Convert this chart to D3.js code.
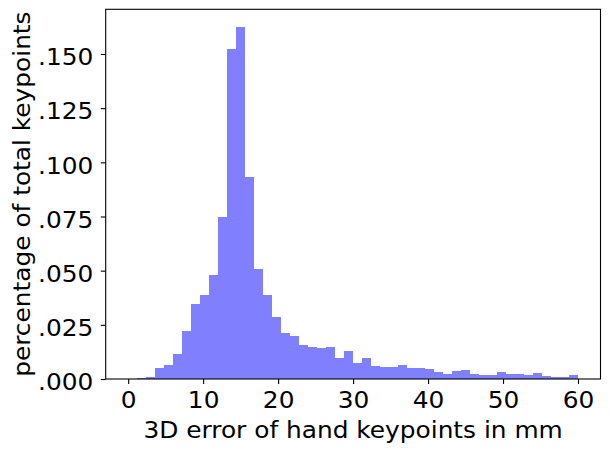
<!DOCTYPE html>
<html>
<head>
<meta charset="utf-8">
<style>
    body {
        margin: 0px;
        padding: 0px;
        background-color: white;
        overflow: hidden;
    }

    .axis text {
        font-family: "DejaVu Sans", sans-serif;
        font-size: 23px;
        fill: black;
    }

    .axis path {
        stroke: none;
    }

    .axis line {
        stroke: black;
        stroke-width: 1.1px;
    }

    .label {
        font-family: "DejaVu Sans", sans-serif;
        font-size: 23px;
        fill: black;
    }
</style>
</head>
<body>
<script src="https://d3js.org/d3.v7.min.js"></script>
<script>
// histogram bins: 50 bins of 1.2 mm from 0 to 60
var binStart = 0,
    binWidth = 1.2;

var binValues = [
    0.0000, 0.0005, 0.0009, 0.0051, 0.0065, 0.0116, 0.0222, 0.0347, 0.0388, 0.0481,
    0.0749, 0.1525, 0.1625, 0.0933, 0.0508, 0.0388, 0.0287, 0.0213, 0.0199, 0.0157,
    0.0148, 0.0143, 0.0148, 0.0097, 0.0129, 0.0074, 0.0097, 0.0060, 0.0055, 0.0055,
    0.0065, 0.0051, 0.0051, 0.0046, 0.0032, 0.0023, 0.0037, 0.0042, 0.0023, 0.0018,
    0.0018, 0.0032, 0.0023, 0.0023, 0.0018, 0.0028, 0.0014, 0.0009, 0.0009, 0.0018
];

var xTicks = [0, 10, 20, 30, 40, 50, 60];
var yTicks = [0, 0.025, 0.05, 0.075, 0.1, 0.125, 0.15];

var xLabel = "3D error of hand keypoints in mm",
    yLabel = "percentage of total keypoints";

var width = 610,
    height = 452;

var plot = { left: 105.7, right: 600.5, top: 9.3, bottom: 379 };

// the reference text runs a little wider along its line than the font size gives
var stretch = "scale(1.08,1)";

var bins = binValues.map(function(v, i) {
    return { x0: binStart + i * binWidth, x1: binStart + (i + 1) * binWidth, value: v };
});

var x = d3.scaleLinear()
    .domain([-3, 63])
    .range([plot.left, plot.right]);

var y = d3.scaleLinear()
    .domain([0, d3.max(binValues) * 1.05])
    .range([plot.bottom, plot.top]);

var svg = d3.select("body").append("svg")
    .attr("width", width)
    .attr("height", height);

// bars
svg.append("g")
    .selectAll("rect")
    .data(bins)
    .enter().append("rect")
    .attr("x", function(d) { return x(d.x0); })
    .attr("width", function(d) { return x(d.x1) - x(d.x0); })
    .attr("y", function(d) { return y(d.value); })
    .attr("height", function(d) { return y(0) - y(d.value); })
    .attr("fill", "#8080ff")
    .attr("shape-rendering", "crispEdges");

var yFormat = function(d) { return d3.format(".3f")(d).replace(/^0/, ""); };

svg.append("g")
    .attr("class", "x axis")
    .attr("transform", "translate(0," + plot.bottom + ")")
    .call(d3.axisBottom(x).tickValues(xTicks).tickSize(4.9))
    .selectAll("text")
    .attr("dy", null)
    .attr("y", 0)
    .attr("transform", "translate(0,29) " + stretch);

svg.append("g")
    .attr("class", "y axis")
    .attr("transform", "translate(" + plot.left + ",0)")
    .call(d3.axisLeft(y).tickValues(yTicks).tickFormat(yFormat).tickSize(4.9))
    .selectAll("text")
    .attr("dy", null)
    .attr("x", 0)
    .attr("transform", "translate(-12.4,10.7) " + stretch);

// frame
svg.append("rect")
    .attr("x", plot.left)
    .attr("y", plot.top)
    .attr("width", plot.right - plot.left)
    .attr("height", plot.bottom - plot.top)
    .attr("fill", "none")
    .attr("stroke", "black")
    .attr("stroke-width", 1.1);

svg.append("text")
    .attr("class", "label")
    .attr("transform", "translate(" + ((plot.left + plot.right) / 2) + ",438.3) " + stretch)
    .style("text-anchor", "middle")
    .text(xLabel);

svg.append("text")
    .attr("class", "label")
    .attr("transform", "translate(30," + ((plot.top + plot.bottom) / 2) + ") rotate(-90) " + stretch)
    .style("text-anchor", "middle")
    .text(yLabel);
</script>
</body>
</html>
